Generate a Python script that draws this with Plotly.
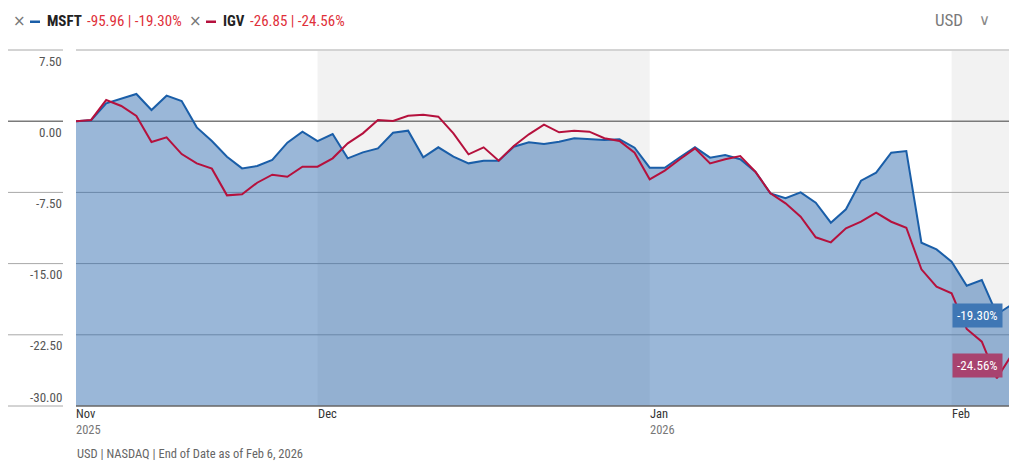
import plotly.graph_objects as go

# ---------------- data ----------------
dates = [
    "2025-11-06", "2025-11-07", "2025-11-10", "2025-11-11", "2025-11-12", "2025-11-13", "2025-11-14",
    "2025-11-17", "2025-11-18", "2025-11-19", "2025-11-20", "2025-11-21", "2025-11-24", "2025-11-25",
    "2025-11-26", "2025-11-28",
    "2025-12-01", "2025-12-02", "2025-12-03", "2025-12-04", "2025-12-05", "2025-12-08", "2025-12-09",
    "2025-12-10", "2025-12-11", "2025-12-12", "2025-12-15", "2025-12-16", "2025-12-17", "2025-12-18",
    "2025-12-19", "2025-12-22", "2025-12-23", "2025-12-24", "2025-12-26", "2025-12-29", "2025-12-30",
    "2025-12-31",
    "2026-01-02", "2026-01-05", "2026-01-06", "2026-01-07", "2026-01-08", "2026-01-09", "2026-01-12",
    "2026-01-13", "2026-01-14", "2026-01-15", "2026-01-16", "2026-01-20", "2026-01-21", "2026-01-22",
    "2026-01-23", "2026-01-26", "2026-01-27", "2026-01-28", "2026-01-29", "2026-01-30",
    "2026-02-02", "2026-02-03", "2026-02-04", "2026-02-05", "2026-02-06",
]

msft = [0.0, 0.1, 1.89, 2.41, 2.87, 1.18, 2.69, 2.13, -0.65, -2.09, -3.74, -4.97, -4.72, -4.09,
        -2.26, -1.1, -2.09, -1.35, -3.91, -3.28, -2.86, -1.21, -1.0, -3.8, -2.75, -3.74, -4.44,
        -4.16, -4.16, -2.69, -2.22, -2.4, -2.16, -1.8, -1.87, -1.98, -1.91, -2.79, -4.9, -4.9,
        -3.8, -2.75, -3.84, -3.56, -4.01, -5.32, -7.6, -8.12, -7.49, -8.58, -10.69, -9.28, -6.27,
        -5.42, -3.32, -3.14, -12.8, -13.5, -14.8, -17.33, -16.73, -20.34, -19.30]

igv = [0.0, 0.13, 2.23, 1.6, 0.55, -2.19, -1.7, -3.46, -4.44, -5.0, -7.81, -7.7, -6.48, -5.64,
       -5.85, -4.79, -4.79, -3.91, -2.33, -1.28, 0.13, 0.02, 0.58, 0.69, 0.48, -1.28, -3.49,
       -2.75, -4.16, -2.61, -1.38, -0.37, -1.17, -1.0, -1.1, -1.8, -2.09, -3.32, -6.12, -5.21,
       -4.01, -2.86, -4.44, -4.01, -3.67, -5.32, -7.6, -8.65, -10.06, -12.23, -12.76, -11.28,
       -10.59, -9.64, -10.59, -11.22, -15.6, -17.43, -18.13, -21.89, -23.23, -27.08, -24.56]

y_ticks = [7.5, 0.0, -7.5, -15.0, -22.5, -30.0]
y_tick_text = ["7.50", "0.00", "-7.50", "-15.00", "-22.50", "-30.00"]
month_names = {"11": "Nov", "12": "Dec", "01": "Jan", "02": "Feb"}
shaded_months = ["12", "02"]

legend_msft = ("MSFT", "-95.96 | -19.30%")
legend_igv = ("IGV", "-26.85 | -24.56%")
end_msft = "-19.30%"
end_igv = "-24.56%"
footer = "USD | NASDAQ | End of Date as of Feb 6, 2026"

# ---------------- style ----------------
OFF = 8  # page body margin in the browser
W, H = 1017 - OFF, 469 - OFF
ML, MR, MT, MB = 76 - OFF, 5, 50 - OFF, 63
PW, PH = W - ML - MR, H - MT - MB
FONT = "'Liberation Sans Narrow', 'Roboto Condensed', 'DejaVu Sans Condensed', 'Arial Narrow', sans-serif"
BLUE = "#1a5ea8"
RED = "#b5113d"
FILL = "rgba(31,95,168,0.45)"
YMIN, YMAX = -30.0, 7.5


def px(xp):
    # page pixel -> paper x
    return (xp - OFF - ML) / PW


def py(yp):
    # page pixel -> paper y
    return (H - MB - (yp - OFF)) / PH


def yv(v):
    return (v - YMIN) / (YMAX - YMIN)


idx = list(range(len(dates)))
n = len(dates)

fig = go.Figure()
fig.add_trace(go.Scatter(x=idx, y=[YMIN] * n, mode="lines", line=dict(width=0),
                         hoverinfo="skip", showlegend=False))
fig.add_trace(go.Scatter(x=idx, y=msft, mode="lines", fill="tonexty", fillcolor=FILL,
                         line=dict(color=BLUE, width=2), name="MSFT", showlegend=False))
fig.add_trace(go.Scatter(x=idx, y=igv, mode="lines",
                         line=dict(color=RED, width=2), name="IGV", showlegend=False))

shapes = []
annotations = []

# month bands and labels
months = [d[5:7] for d in dates]
years = [d[:4] for d in dates]
firsts = [i for i in idx if i == 0 or months[i] != months[i - 1]]
for k, i in enumerate(firsts):
    end = firsts[k + 1] if k + 1 < len(firsts) else n - 1
    if months[i] in shaded_months:
        shapes.append(dict(type="rect", xref="x", yref="paper", x0=i, x1=end, y0=0, y1=yv(YMAX) - 0.003,
                           fillcolor="#f2f2f2", line=dict(width=0), layer="below"))
    show_year = i == 0 or years[i] != years[i - 1]
    txt = month_names[months[i]]
    if show_year:
        txt += "<br><span style='color:#777'>" + years[i] + "</span>"
    annotations.append(dict(x=i, y=0, xref="x", yref="paper", text=txt, showarrow=False,
                            xanchor="left", yanchor="top", align="left", xshift=-2, yshift=2,
                            font=dict(family=FONT, size=12.5, color="#333")))

# gridlines and y labels
for v, t in zip(y_ticks, y_tick_text):
    col = "#7a7a7a" if v == 0 else "#a8a8a8"
    wid = 1.6 if v == 0 else 1
    shapes.append(dict(type="line", xref="paper", yref="paper", x0=0, x1=1, y0=yv(v), y1=yv(v),
                       line=dict(color=("#666" if v == YMIN else col), width=(1.6 if v == YMIN else wid)),
                       layer=("above" if v == YMIN else "between")))
    shapes.append(dict(type="line", xref="paper", yref="paper", x0=px(7), x1=px(63), y0=yv(v), y1=yv(v),
                       line=dict(color=col, width=wid)))
    annotations.append(dict(x=px(64), y=yv(v), xref="paper", yref="paper", text=t, showarrow=False,
                            xanchor="right", yanchor="middle", yshift=(9 if v == YMIN else -11),
                            font=dict(family=FONT, size=13, color="#555")))

# end labels
annotations.append(dict(x=idx[-1], y=msft[-1], xref="x", yref="y", text=end_msft, showarrow=False,
                        xanchor="right", yanchor="top", xshift=-9, yshift=1, bgcolor="#3f77b5",
                        borderpad=4, font=dict(family=FONT, size=13, color="white")))
annotations.append(dict(x=idx[-1], y=igv[-1], xref="x", yref="y", text=end_igv, showarrow=False,
                        xanchor="right", yanchor="top", xshift=-9, yshift=1, bgcolor="#a8436f",
                        borderpad=4, font=dict(family=FONT, size=13, color="white")))

# header legend
hy = py(21)
for xc, color, (name, vals), xn, xv in [(19, BLUE, legend_msft, 46, 86), (195, RED, legend_igv, 222, 249)]:
    annotations.append(dict(x=px(xc), y=hy, xref="paper", yref="paper", text="×", showarrow=False,
                            xanchor="center", yanchor="middle",
                            font=dict(family="DejaVu Sans", size=15, color="#777")))
    shapes.append(dict(type="rect", xref="paper", yref="paper", x0=px(xc + 11), x1=px(xc + 21),
                       y0=py(23), y1=py(20.5), fillcolor=color, line=dict(width=0)))
    annotations.append(dict(x=px(xn), y=hy, xref="paper", yref="paper", text="<b>" + name + "</b>",
                            showarrow=False, xanchor="left", yanchor="middle", xshift=-1,
                            font=dict(family=FONT, size=15, color="#222")))
    annotations.append(dict(x=px(xv), y=hy, xref="paper", yref="paper", text=vals,
                            showarrow=False, xanchor="left", yanchor="middle", xshift=-1,
                            font=dict(family=FONT, size=15, color="#e0303a")))

annotations.append(dict(x=px(965), y=py(20), xref="paper", yref="paper", text="USD", showarrow=False,
                        xanchor="right", yanchor="middle",
                        font=dict(family=FONT, size=17, color="#7a7a7a")))
annotations.append(dict(x=px(984), y=py(20), xref="paper", yref="paper", text="∨", showarrow=False,
                        xanchor="center", yanchor="middle",
                        font=dict(family="DejaVu Sans", size=15, color="#888")))

annotations.append(dict(x=px(75), y=py(454), xref="paper", yref="paper", text=footer, showarrow=False,
                        xanchor="left", yanchor="middle",
                        font=dict(family=FONT, size=12.5, color="#666")))

fig.update_layout(
    width=W, height=H,
    margin=dict(l=ML, r=MR, t=MT, b=MB),
    paper_bgcolor="white", plot_bgcolor="white",
    showlegend=False,
    xaxis=dict(range=[0, n - 1], showgrid=False, zeroline=False, showticklabels=False,
               showline=False, ticks=""),
    yaxis=dict(range=[YMIN, YMAX], showgrid=False, zeroline=False, showticklabels=False,
               showline=False, ticks=""),
    shapes=shapes,
    annotations=annotations,
    font=dict(family=FONT),
)

fig.write_html("out.html")
